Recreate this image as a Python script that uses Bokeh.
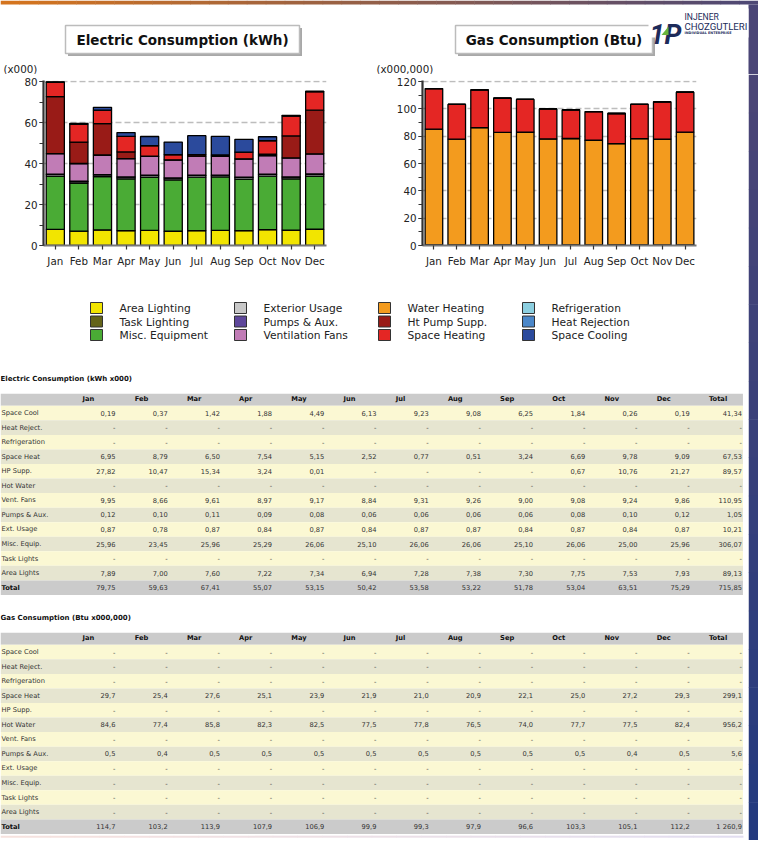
from bokeh.plotting import figure
from bokeh.models import Range1d, FactorRange, ColumnDataSource, SingleIntervalTicker
from bokeh.layouts import column, row
from bokeh.core.properties import value
from bokeh.embed import file_html
from bokeh.resources import INLINE

FONT = "DejaVu Sans"

# ---------------- data ----------------
months = ["Jan", "Feb", "Mar", "Apr", "May", "Jun", "Jul", "Aug", "Sep", "Oct", "Nov", "Dec"]
table_headers = months + ["Total"]
row_labels = ["Space Cool", "Heat Reject.", "Refrigeration", "Space Heat", "HP Supp.", "Hot Water",
              "Vent. Fans", "Pumps & Aux.", "Ext. Usage", "Misc. Equip.", "Task Lights", "Area Lights", "Total"]

# Electric consumption (kWh x000); None = "-"
elec_space_cool = [0.19, 0.37, 1.42, 1.88, 4.49, 6.13, 9.23, 9.08, 6.25, 1.84, 0.26, 0.19]
elec_heat_reject = [None, None, None, None, None, None, None, None, None, None, None, None]
elec_refrig = [None, None, None, None, None, None, None, None, None, None, None, None]
elec_space_heat = [6.95, 8.79, 6.50, 7.54, 5.15, 2.52, 0.77, 0.51, 3.24, 6.69, 9.78, 9.09]
elec_hp_supp = [27.82, 10.47, 15.34, 3.24, 0.01, None, None, None, None, 0.67, 10.76, 21.27]
elec_hot_water = [None, None, None, None, None, None, None, None, None, None, None, None]
elec_vent_fans = [9.95, 8.66, 9.61, 8.97, 9.17, 8.84, 9.31, 9.26, 9.00, 9.08, 9.24, 9.86]
elec_pumps = [0.12, 0.10, 0.11, 0.09, 0.08, 0.06, 0.06, 0.06, 0.06, 0.08, 0.10, 0.12]
elec_ext_usage = [0.87, 0.78, 0.87, 0.84, 0.87, 0.84, 0.87, 0.87, 0.84, 0.87, 0.84, 0.87]
elec_misc_equip = [25.96, 23.45, 25.96, 25.29, 26.06, 25.10, 26.06, 26.06, 25.10, 26.06, 25.00, 25.96]
elec_task_lights = [None, None, None, None, None, None, None, None, None, None, None, None]
elec_area_lights = [7.89, 7.00, 7.60, 7.22, 7.34, 6.94, 7.28, 7.38, 7.30, 7.75, 7.53, 7.93]
elec_row_totals = [41.34, None, None, 67.53, 89.57, None, 110.95, 1.05, 10.21, 306.07, None, 89.13]
elec_month_totals = [79.75, 59.63, 67.41, 55.07, 53.15, 50.42, 53.58, 53.22, 51.78, 53.04, 63.51, 75.29]
elec_grand_total = 715.85

# Gas consumption (Btu x000,000)
gas_space_cool = [None, None, None, None, None, None, None, None, None, None, None, None]
gas_heat_reject = [None, None, None, None, None, None, None, None, None, None, None, None]
gas_refrig = [None, None, None, None, None, None, None, None, None, None, None, None]
gas_space_heat = [29.7, 25.4, 27.6, 25.1, 23.9, 21.9, 21.0, 20.9, 22.1, 25.0, 27.2, 29.3]
gas_hp_supp = [None, None, None, None, None, None, None, None, None, None, None, None]
gas_hot_water = [84.6, 77.4, 85.8, 82.3, 82.5, 77.5, 77.8, 76.5, 74.0, 77.7, 77.5, 82.4]
gas_vent_fans = [None, None, None, None, None, None, None, None, None, None, None, None]
gas_pumps = [0.5, 0.4, 0.5, 0.5, 0.5, 0.5, 0.5, 0.5, 0.5, 0.5, 0.4, 0.5]
gas_ext_usage = [None, None, None, None, None, None, None, None, None, None, None, None]
gas_misc_equip = [None, None, None, None, None, None, None, None, None, None, None, None]
gas_task_lights = [None, None, None, None, None, None, None, None, None, None, None, None]
gas_area_lights = [None, None, None, None, None, None, None, None, None, None, None, None]
gas_row_totals = [None, None, None, 299.1, None, 956.2, None, 5.6, None, None, None, None]
gas_month_totals = [114.7, 103.2, 113.9, 107.9, 106.9, 99.9, 99.3, 97.9, 96.6, 103.3, 105.1, 112.2]
gas_grand_total = 1260.9

legend_names = ["Area Lighting", "Task Lighting", "Misc. Equipment",
                "Exterior Usage", "Pumps & Aux.", "Ventilation Fans",
                "Water Heating", "Ht Pump Supp.", "Space Heating",
                "Refrigeration", "Heat Rejection", "Space Cooling"]
legend_colors = ["#f2e500", "#646419", "#4aab35",
                 "#c8c8c8", "#5e479b", "#c17cb6",
                 "#f39b1e", "#991b17", "#e42624",
                 "#8ccfe0", "#4b87c9", "#2b4a9c"]

elec_rows = [elec_space_cool, elec_heat_reject, elec_refrig, elec_space_heat, elec_hp_supp, elec_hot_water,
             elec_vent_fans, elec_pumps, elec_ext_usage, elec_misc_equip, elec_task_lights, elec_area_lights]
gas_rows = [gas_space_cool, gas_heat_reject, gas_refrig, gas_space_heat, gas_hp_supp, gas_hot_water,
            gas_vent_fans, gas_pumps, gas_ext_usage, gas_misc_equip, gas_task_lights, gas_area_lights]

# stacking order = legend order (bottom to top)
elec_stack = [elec_area_lights, elec_task_lights, elec_misc_equip, elec_ext_usage, elec_pumps, elec_vent_fans,
              elec_hot_water, elec_hp_supp, elec_space_heat, elec_refrig, elec_heat_reject, elec_space_cool]
gas_stack = [gas_area_lights, gas_task_lights, gas_misc_equip, gas_ext_usage, gas_pumps, gas_vent_fans,
             gas_hot_water, gas_hp_supp, gas_space_heat, gas_refrig, gas_heat_reject, gas_space_cool]

FULL_W = 758
PAGE_W = 748
STRIP_W = FULL_W - PAGE_W
TXT = "#222222"


def blank(width, height, xr, yr):
    p = figure(width=width, height=height, x_range=xr, y_range=yr,
               x_axis_location=None, y_axis_location=None, min_border=0,
               output_backend="svg", toolbar_location=None, outline_line_color=None)
    p.grid.visible = False
    return p


def lerp_colors(c0, c1, n):
    out = []
    for i in range(n):
        t = i / (n - 1)
        out.append("#%02x%02x%02x" % tuple(int(round(a + (b - a) * t)) for a, b in zip(c0, c1)))
    return out


# ---------------- header ----------------
HDR_H = 74
hdr = blank(FULL_W, HDR_H, Range1d(0, FULL_W), Range1d(HDR_H, 0))
n = 40
gl = [FULL_W * i / n for i in range(n)]
gr = [FULL_W * (i + 1) / n + 0.5 for i in range(n)]
hdr.quad(left=gl, right=gr, top=0, bottom=4, fill_color=lerp_colors((212, 116, 30), (78, 72, 116), n),
         line_color=None)
hdr.quad(left=PAGE_W, right=FULL_W, top=4, bottom=HDR_H, fill_color="#4a4576", line_color=None)

# title boxes (shadow + box)
boxes = [(65, 299, 25, 53, "Electric Consumption (kWh)"), (455, 652, 25, 53, "Gas Consumption (Btu)")]
for l, r, t, b, txt in boxes:
    hdr.quad(left=l + 2.5, right=r + 2.5, top=t + 2.5, bottom=b + 2.5, fill_color="#a8a8a8", line_color=None)
    hdr.quad(left=l, right=r, top=t, bottom=b, fill_color="white", line_color="#bcbcbc", line_width=1.5)
    hdr.text(x=[(l + r) / 2], y=[(t + b) / 2 + 0.5], text=[txt], text_align="center", text_baseline="middle",
             text_font=value(FONT), text_font_style="bold", text_font_size=value("13.5px"), text_color="#111111")

hdr.text(x=[3, 376], y=[68, 68], text=["(x000)", "(x000,000)"], text_align="left", text_baseline="middle",
         text_font=value(FONT), text_font_size=value("10.3px"), text_color=TXT)

# logo
NAVY = "#1d2b5a"
hdr.quad(left=648, right=PAGE_W, top=8, bottom=37, fill_color="white", line_color=None)
hdr.text(x=[649], y=[34.5], text=["1P"], text_align="left", text_baseline="alphabetic",
         text_font=value("Roboto"), text_font_style="bold italic",
         text_font_size=value("27px"), text_color=NAVY)
hdr.patch(x=[661, 668, 668], y=[34.5, 34.5, 26], fill_color="#6ab43c", line_color=None)
hdr.text(x=[684], y=[16.2], text=["INJENER"], text_align="left", text_baseline="middle",
         text_font=value("Roboto"), text_font_size=value("8.6px"), text_color=NAVY)
hdr.text(x=[684], y=[25.6], text=["CHOZGUTLERI"], text_align="left", text_baseline="middle",
         text_font=value("Roboto"), text_font_size=value("9.6px"), text_color=NAVY)
hdr.text(x=[684], y=[32.8], text=["INDIVIDUAL ENTERPRISE"], text_align="left", text_baseline="middle",
         text_font=value(FONT), text_font_style="bold", text_font_size=value("3.4px"), text_color=NAVY)


# ---------------- charts ----------------
CH_H = 216
FRAME_H = 165


def make_chart(stack, ymax, width, ml, mr):
    keys = ["s%d" % i for i in range(len(stack))]
    data = {"month": months}
    for k, s in zip(keys, stack):
        data[k] = [v if v is not None else 0.0 for v in s]
    src = ColumnDataSource(data)
    p = figure(x_range=FactorRange(factors=months), y_range=Range1d(0, ymax * FRAME_H / (FRAME_H - 1)),
               width=width, height=CH_H,
               min_border_left=ml, min_border_right=mr, min_border_top=6, min_border_bottom=CH_H - 6 - FRAME_H,
               output_backend="svg", toolbar_location=None, outline_line_color=None)
    p.vbar_stack(keys, x="month", width=0.77, source=src, fill_color=legend_colors,
                 line_color="black", line_width=1.3)
    p.xgrid.visible = False
    p.ygrid.grid_line_color = "#bdbdbd"
    p.ygrid.grid_line_width = 1.5
    p.ygrid.grid_line_dash = "6 3"
    p.yaxis.ticker = SingleIntervalTicker(interval=20, num_minor_ticks=2)
    for ax in (p.xaxis, p.yaxis):
        ax.major_label_text_font = FONT
        ax.major_label_text_font_size = "10.3px"
        ax.major_label_text_color = TXT
        ax.major_tick_in = 0
        ax.major_tick_out = 4
        ax.major_tick_line_color = "#333333"
        ax.major_tick_line_width = 1.2
    p.yaxis.minor_tick_in = 0
    p.yaxis.minor_tick_out = 4
    p.yaxis.minor_tick_line_color = "#333333"
    p.yaxis.minor_tick_line_width = 1.2
    p.yaxis.axis_line_color = "#333333"
    p.yaxis.axis_line_width = 2.2
    p.yaxis.major_label_standoff = 2
    p.xaxis.axis_line_color = "#777777"
    p.xaxis.axis_line_width = 2
    p.xaxis.major_label_standoff = 5
    return p


elec_chart = make_chart(elec_stack, 80, 380, 43, 54)
gas_chart = make_chart(gas_stack, 120, 368, 42, 52)

# ---------------- legend ----------------
LEG_H = 70
leg = blank(PAGE_W, LEG_H, Range1d(0, PAGE_W), Range1d(LEG_H, 0))
lx, ly = [], []
for i in range(len(legend_names)):
    c, r = divmod(i, 3)
    lx.append(96 + 144 * c)
    ly.append(17.5 + 13.5 * r)
leg.rect(x=lx, y=ly, width=12, height=11, fill_color=legend_colors, line_color="#333333", line_width=1)
leg.text(x=[x + 23 for x in lx], y=[y + 0.5 for y in ly], text=legend_names, text_align="left",
         text_baseline="middle", text_font=value(FONT), text_font_size=value("10.7px"), text_color=TXT)


# ---------------- tables ----------------
CW = 52.2      # px per column
VR = 115.0     # px position of first value column right edge
RH = 14.55     # px per row
TBL_H = 240


def fmt(v, nd):
    if v is None:
        return "-"
    s = f"{v:,.{nd}f}"
    return s.replace(",", " ").replace(".", ",")


def make_table(title, rows, row_totals, month_totals, grand_total, nd, height, top_px, bottom_line=False):
    x0 = -VR / CW
    y_top = -top_px / RH
    p = blank(PAGE_W, height, Range1d(x0, (PAGE_W - VR) / CW), Range1d(y_top + height / RH, y_top))
    nrows = len(row_labels)
    tops = [-0.33] + [r - 0.5 for r in range(1, nrows + 1)]
    bots = [0.5] + [r + 0.5 for r in range(1, nrows + 1)]
    cols = ["#cbcbcb"] + [("#fbf8d3" if r % 2 == 1 else "#e6e5d0") for r in range(1, nrows)] + ["#cbcbcb"]
    p.quad(left=x0, right=12.02, top=tops, bottom=bots, fill_color=cols, line_color=None)
    if bottom_line:
        m = 30
        segl = [x0 + (12.02 - x0) * i / m for i in range(m)]
        segr = [x0 + (12.02 - x0) * (i + 1) / m + 0.01 for i in range(m)]
        p.quad(left=segl, right=segr, top=13.62, bottom=13.76,
               fill_color=lerp_colors((246, 226, 222), (226, 222, 240), m), line_color=None)
    p.text(x=[x0], y=[-1.35], text=[title], text_align="left", text_baseline="middle",
           text_font=value(FONT), text_font_style="bold", text_font_size=value("7px"), text_color="#111111")
    p.text(x=[c - 0.632 for c in range(len(table_headers))], y=[0] * len(table_headers), text=table_headers,
           text_align="left", text_baseline="middle", text_font=value(FONT), text_font_style="bold",
           text_font_size=value("6.7px"), text_color="#111111")
    p.text(x=[x0 + 1.0 / CW] * (nrows - 1), y=list(range(1, nrows)), text=row_labels[:-1],
           text_align="left", text_baseline="middle", text_font=value(FONT),
           text_font_size=value("6.7px"), text_color="#333333")
    p.text(x=[x0 + 1.0 / CW], y=[nrows], text=[row_labels[-1]], text_align="left", text_baseline="middle",
           text_font=value(FONT), text_font_style="bold", text_font_size=value("6.7px"), text_color="#111111")
    vx, vy, vt = [], [], []
    for r, series in enumerate(rows, start=1):
        for c, v in enumerate(series):
            vx.append(c); vy.append(r); vt.append(fmt(v, nd))
        vx.append(12); vy.append(r); vt.append(fmt(row_totals[r - 1], nd))
    for c, v in enumerate(month_totals):
        vx.append(c); vy.append(nrows); vt.append(fmt(v, nd))
    vx.append(12); vy.append(nrows); vt.append(fmt(grand_total, nd))
    p.text(x=vx, y=vy, text=vt, text_align="right", text_baseline="middle", text_font=value(FONT),
           text_font_size=value("6.7px"), text_color="#333333")
    return p


elec_table = make_table("Electric Consumption (kWh x000)", elec_rows, elec_row_totals, elec_month_totals,
                        elec_grand_total, 2, TBL_H, 38.0)
gas_table = make_table("Gas Consumption (Btu x000,000)", gas_rows, gas_row_totals, gas_month_totals,
                       gas_grand_total, 1, TBL_H, 37.0, bottom_line=True)

# right-hand page strip
BODY_H = CH_H + LEG_H + 2 * TBL_H
strip = blank(STRIP_W, BODY_H, Range1d(0, 1), Range1d(BODY_H, 0))
k = 20
strip.quad(left=0, right=1, top=[BODY_H * i / k for i in range(k)],
           bottom=[BODY_H * (i + 1) / k + 0.5 for i in range(k)],
           fill_color=lerp_colors((74, 69, 118), (36, 58, 126), k), line_color=None)

layout = column(hdr, row(column(row(elec_chart, gas_chart), leg, elec_table, gas_table), strip))

open("out.html", "w").write(file_html(layout, INLINE))
